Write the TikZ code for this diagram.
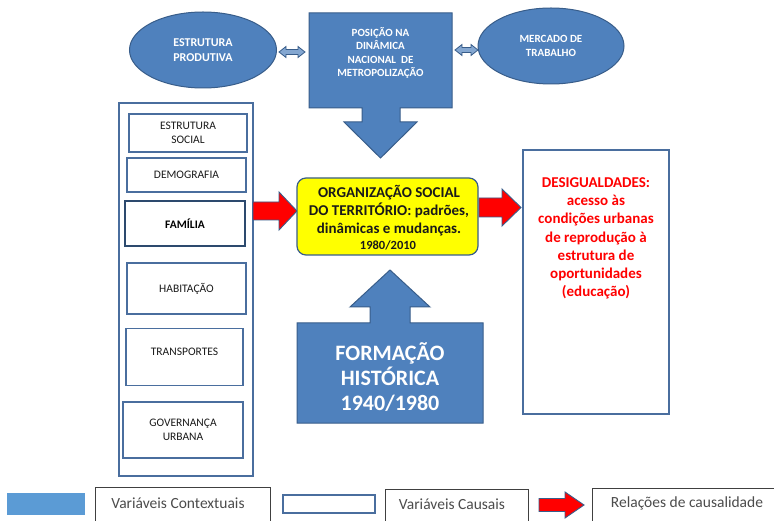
\documentclass[tikz,border=0pt]{standalone}
\usepackage{fontspec}
\setmainfont{Carlito}
\usetikzlibrary{shapes.geometric}
\definecolor{cblue}{HTML}{4F81BD}
\definecolor{cedge}{HTML}{385D8A}
\definecolor{cbox}{HTML}{4A6E9E}
\definecolor{lblue}{HTML}{5B9BD5}
\definecolor{ctext}{HTML}{1A1A1A}
\definecolor{cyel}{HTML}{FFFF00}
\definecolor{cred}{HTML}{FF0000}
\begin{document}
\begin{tikzpicture}[x=1pt,y=-1pt,
  ctx/.style={fill=cblue,draw=cedge,line width=1pt},
  oval/.style={ellipse,ctx,inner sep=0pt,text=white,align=center,font=\fontsize{12}{14.5}\selectfont\bfseries},
  varbox/.style={draw=cbox,line width=1.2pt,fill=white,inner sep=0pt,align=center,text=ctext,font=\fontsize{11.5}{14}\selectfont},
  redarrow/.style={fill=cred,draw=cedge,line width=0.9pt},
  dblarrow/.style={fill=cblue!70,draw=cedge,line width=0.8pt},
  legbox/.style={draw=black!75,line width=1pt,fill=white,inner sep=0pt},
  legtext/.style={text=black!70,font=\fontsize{15.5}{18}\selectfont}]
\clip (0,0) rectangle (774,521);
\fill[white] (0,0) rectangle (774,521);

% top ellipses
\node[oval,minimum width=147pt,minimum height=76pt] (prod) at (203,50) {ESTRUTURA\\PRODUTIVA};
\node[oval,minimum width=146pt,minimum height=76pt,font=\fontsize{11}{13.5}\selectfont\bfseries] (merc) at (551,46) {MERCADO DE\\TRABALHO};

% metropolization callout
\draw[ctx] (309,13) -- (452,13) -- (452,108) -- (400,108) -- (400,122) -- (417,122) -- (380.5,158)
  -- (344,122) -- (362,122) -- (362,108) -- (309,108) -- cycle;
\node[text=white,align=center,font=\fontsize{11}{13.3}\selectfont\bfseries] (metro) at (380.5,53)
  {POSIÇÃO NA\\DINÂMICA\\NACIONAL\ \ DE\\METROPOLIZAÇÃO};

% double arrows
\draw[dblarrow] (279,52) -- (286,46.5) -- (286,49.5) -- (298,49.5) -- (298,46.5) -- (305,52)
  -- (298,57.5) -- (298,54.5) -- (286,54.5) -- (286,57.5) -- cycle;
\draw[dblarrow] (455,50) -- (462,44.5) -- (462,47.5) -- (471,47.5) -- (471,44.5) -- (478,50)
  -- (471,55.5) -- (471,52.5) -- (462,52.5) -- (462,55.5) -- cycle;

% left causal column
\node[draw=cbox,line width=1.2pt,minimum width=134pt,minimum height=373pt,inner sep=0pt] (col) at (186,289.5) {};
\node[varbox,minimum width=118pt,minimum height=38pt] (soc) at (188,133) {ESTRUTURA\\SOCIAL};
\node[varbox,minimum width=119pt,minimum height=34pt] (dem) at (186.5,175) {DEMOGRAFIA};
\node[varbox,draw=cedge!80!black,line width=1.5pt,minimum width=120pt,minimum height=45pt,font=\fontsize{11.5}{14}\selectfont\bfseries,text=black] (fam) at (185,223.5) {FAMÍLIA};
\node[varbox,minimum width=119pt,minimum height=51pt] (hab) at (186.5,288.5) {HABITAÇÃO};
\node[varbox,minimum width=117pt,minimum height=57pt,anchor=north] (tra) at (184.5,328) {};
\node[text=ctext,font=\fontsize{11.5}{14}\selectfont] (tratxt) at (184.5,352) {TRANSPORTES};
\node[varbox,minimum width=120pt,minimum height=56pt] (gov) at (183,430) {GOVERNANÇA\\URBANA};

% red arrow column -> yellow
\draw[redarrow] (253,202) -- (279,202) -- (279,192) -- (297,211) -- (279,230) -- (279,220) -- (253,220) -- cycle;

% yellow box
\node[draw=cedge,line width=1.2pt,fill=cyel,rounded corners=9pt,minimum width=181pt,minimum height=77pt,inner sep=0pt] (org) at (387.5,216.5) {};
\node[align=center,text=ctext,font=\fontsize{15}{18}\selectfont\bfseries] (orgtxt) at (389,211)
  {ORGANIZAÇÃO SOCIAL\\DO TERRITÓRIO: padrões,\\dinâmicas e mudanças.};
\node[text=ctext,font=\fontsize{12.5}{14}\selectfont\bfseries] (orgyr) at (388,245.5) {1980/2010};

% red arrow yellow -> right
\draw[redarrow] (479,198) -- (502,198) -- (502,189) -- (521,207.5) -- (502,226) -- (502,217) -- (479,217) -- cycle;

% right box
\node[draw=cbox,line width=1.5pt,fill=white,minimum width=146pt,minimum height=264pt,inner sep=0pt] (des) at (596,282) {};
\node[align=center,text=cred,font=\fontsize{15}{18.2}\selectfont\bfseries] (destxt) at (596,238.5)
  {DESIGUALDADES:\\acesso às\\condições urbanas\\de reprodução à\\estrutura de\\oportunidades\\(educação)};

% formacao historica callout
\draw[ctx] (297,323) -- (370,323) -- (370,307) -- (350,307) -- (390,270) -- (430,307) -- (410,307)
  -- (410,323) -- (483,323) -- (483,423) -- (297,423) -- cycle;
\node[align=center,text=white,font=\fontsize{22}{25}\selectfont\bfseries] (form) at (390,377)
  {FORMAÇÃO\\HISTÓRICA\\1940/1980};

% legend
\node[fill=lblue,minimum width=78pt,minimum height=22pt,inner sep=0pt] (lgctx) at (46,504) {};
\node[legbox,minimum width=175pt,minimum height=50pt,anchor=north west] (lgctxbox) at (95,487) {};
\node[legtext] (lgctxtxt) at (178,503) {Variáveis Contextuais};
\node[draw=cbox,line width=1.2pt,minimum width=92pt,minimum height=18pt,inner sep=0pt] (lgcau) at (329,504) {};
\node[legbox,minimum width=143pt,minimum height=50pt,anchor=north west] (lgcaubox) at (385,489) {};
\node[legtext] (lgcautxt) at (452,504) {Variáveis Causais};
\draw[redarrow] (539,498.5) -- (565,498.5) -- (565,492) -- (584,505) -- (565,518) -- (565,511.5) -- (539,511.5) -- cycle;
\node[legbox,minimum width=200pt,minimum height=50pt,anchor=north west] (lgrelbox) at (592,488) {};
\node[legtext] (lgreltxt) at (687,503) {Relações de causalidade};
\end{tikzpicture}
\end{document}
